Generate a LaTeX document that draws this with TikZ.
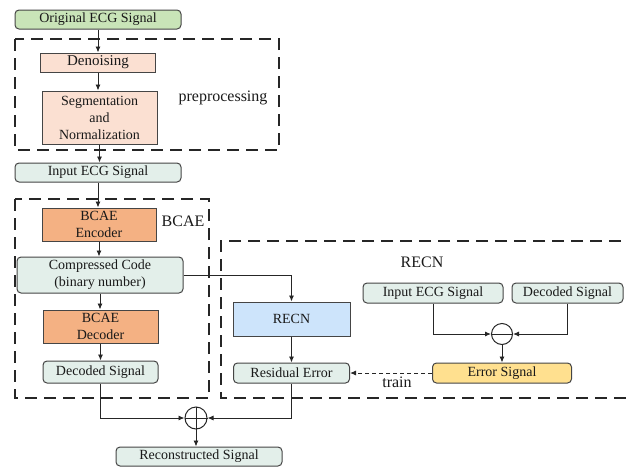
\documentclass[tikz,border=0pt]{standalone}
\usepackage{fontspec}
\setmainfont{Liberation Serif}
\newfontfamily\tnr{Liberation Serif}
\usetikzlibrary{arrows.meta,calc}
\definecolor{cgreen}{HTML}{C9E4B8}
\definecolor{csalmon}{HTML}{FBE0D2}
\definecolor{corange}{HTML}{F4B183}
\definecolor{cblue}{HTML}{CDE4FB}
\definecolor{cyellow}{HTML}{FFE08F}
\definecolor{cteal}{HTML}{E3EFEA}
\definecolor{cborder}{HTML}{454545}
\tikzset{
  box/.style={draw=cborder, line width=1pt, inner sep=0pt, align=center,
    font=\tnr\fontsize{14}{17}\selectfont, text=black!90},
  rbox/.style={box, rounded corners=4pt},
  arr/.style={draw=black!85, line width=0.9pt, -{Latex[length=6pt,width=5pt]}},
  grp/.style={draw=black!85, line width=1.8pt, dash pattern=on 12pt off 7pt},
  lbl/.style={font=\tnr\fontsize{16}{18}\selectfont, text=black!90, inner sep=0pt},
  op/.style={circle, draw=black!85, line width=1pt, minimum size=22pt, inner sep=0pt},
}
\begin{document}
\begin{tikzpicture}[x=1pt,y=-1pt]
\useasboundingbox (0,0) rectangle (627,469);
% groups
\draw[grp] (15,39) rectangle (279,150);
\draw[grp] (15,199) rectangle (209,398);
\draw[grp] (640,241) -- (221,241) -- (221,398) -- (640,398);
% nodes
\node[rbox, fill=cgreen, minimum width=166pt, minimum height=19pt] (orig) at (98,19.5) {Original ECG Signal};
\node[box, fill=csalmon, minimum width=115pt, minimum height=19pt, font=\tnr\fontsize{15}{17}\selectfont] (den) at (98,62.5) {Denoising};
\node[box, fill=csalmon, minimum width=115pt, minimum height=53pt] (seg) at (99.5,117.5) {Segmentation\\and\\Normalization};
\node[lbl] (pre) at (223,98) {preprocessing};
\node[rbox, fill=cteal, minimum width=166pt, minimum height=19pt] (inp) at (98,172.5) {Input ECG Signal};
\node[box, fill=corange, minimum width=114pt, minimum height=33pt] (enc) at (99,224.5) {BCAE\\Encoder};
\node[lbl] (bcae) at (183,221) {BCAE};
\node[rbox, fill=cteal, minimum width=166pt, minimum height=36pt] (code) at (100,275) {Compressed Code\\(binary number)};
\node[box, fill=corange, minimum width=115pt, minimum height=33pt] (dec) at (100.5,326.5) {BCAE\\Decoder};
\node[rbox, fill=cteal, minimum width=115pt, minimum height=22pt] (decs) at (100.5,372) {Decoded Signal};
\node[op] (plus) at (196,418) {};
\draw[black!85, line width=1pt] (plus.north) -- (plus.south) (plus.west) -- (plus.east);
\node[rbox, fill=cteal, minimum width=166pt, minimum height=19pt] (rec) at (199,456.5) {Reconstructed Signal};
\node[lbl] (recnl) at (422,262) {RECN};
\node[box, fill=cblue, minimum width=117pt, minimum height=34pt] (recn) at (291.5,319) {RECN};
\node[rbox, fill=cteal, minimum width=116pt, minimum height=20pt] (res) at (291.5,373) {Residual Error};
\node[rbox, fill=cteal, minimum width=140pt, minimum height=20pt] (inr) at (433,293) {Input ECG Signal};
\node[rbox, fill=cteal, minimum width=111pt, minimum height=20pt] (decr) at (567.5,293) {Decoded Signal};
\node[op, minimum size=21pt] (minus) at (502,334) {};
\draw[black!85, line width=1pt] (minus.west) -- (minus.east);
\node[rbox, fill=cyellow, minimum width=139pt, minimum height=20pt] (err) at (502,373) {Error Signal};
\node[lbl] (train) at (397,382) {train};
% connectors
\draw[arr] (orig.south) -- (orig.south |- den.north);
\draw[arr] (den.south) -- (den.south |- seg.north);
\draw[arr] (seg.south) -- (seg.south |- inp.north);
\draw[arr] (inp.south) -- (inp.south |- enc.north);
\draw[arr] (enc.south) -- (enc.south |- code.north);
\draw[arr] (code.south) -- (code.south |- dec.north);
\draw[arr] (dec.south) -- (dec.south |- decs.north);
\draw[arr] (code.east) -| (recn.north);
\draw[arr] (recn.south) -- (res.north);
\draw[arr] (decs.south) |- (plus.west);
\draw[arr] (res.south) |- (plus.east);
\draw[arr] (plus.south) -- (plus.south |- rec.north);
\draw[arr] (inr.south) |- (minus.west);
\draw[arr] (decr.south) |- (minus.east);
\draw[arr] (minus.south) -- (err.north);
\draw[arr, dash pattern=on 4pt off 3pt] (err.west) -- (res.east);
\end{tikzpicture}
\end{document}
